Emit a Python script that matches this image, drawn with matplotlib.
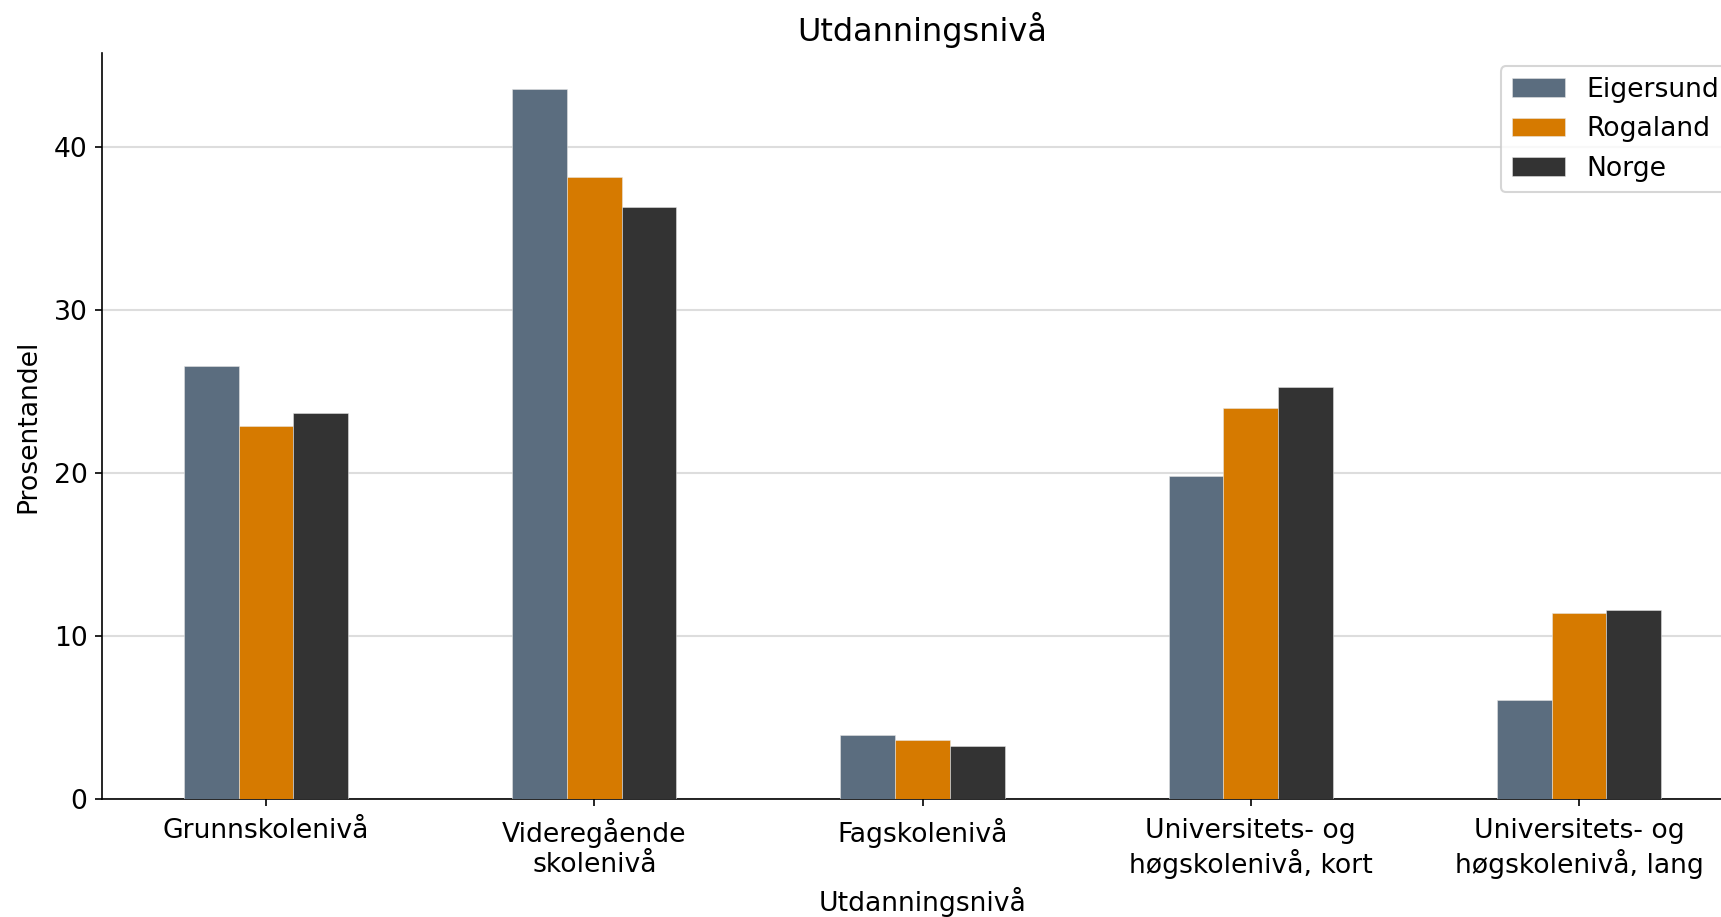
import numpy as np
import matplotlib
matplotlib.use("Agg")
import matplotlib.pyplot as plt

categories = ["Grunnskolenivå", "Videregående\nskolenivå", "Fagskolenivå",
              "Universitets- og\nhøgskolenivå, kort", "Universitets- og\nhøgskolenivå, lang"]
series_names = ["Eigersund", "Rogaland", "Norge"]
eigersund = [26.6, 43.6, 3.9, 19.8, 6.1]
rogaland = [22.9, 38.2, 3.6, 24.0, 11.4]
norge = [23.7, 36.3, 3.25, 25.3, 11.6]
colors = ["#5b6d7f", "#d67a00", "#333333"]

plt.rcParams['font.family'] = ['DejaVu Sans']
plt.rcParams['font.size'] = 12.8

fig = plt.figure(figsize=(1721/150, 917/150), dpi=150)
ax = fig.add_axes([102/1721, 1-799/917, (1743-102)/1721, (799-53)/917])

x = np.arange(len(categories))
w = 0.5/3
for i, (name, vals) in enumerate(zip(series_names, [eigersund, rogaland, norge])):
    ax.bar(x + (i-1)*w, vals, width=w, color=colors[i], label=name,
           edgecolor="#e6e6e6", linewidth=0.25, zorder=3)

ax.set_xlim(-0.5, len(categories)-0.5)
ax.set_xticks(x)
ax.set_xticklabels(categories)
ax.tick_params(axis="x", pad=5.5)
ax.set_yticks([0, 10, 20, 30, 40])
ax.grid(axis="y", color="#dddddd", linewidth=1, zorder=0)
ax.set_axisbelow(True)
for s in ["top", "right"]:
    ax.spines[s].set_visible(False)
ax.set_title("Utdanningsnivå")
ax.set_xlabel("Utdanningsnivå")
ax.set_ylabel("Prosentandel", labelpad=6)
ax.legend(loc="upper right")

fig.savefig("out.png", dpi=150)
